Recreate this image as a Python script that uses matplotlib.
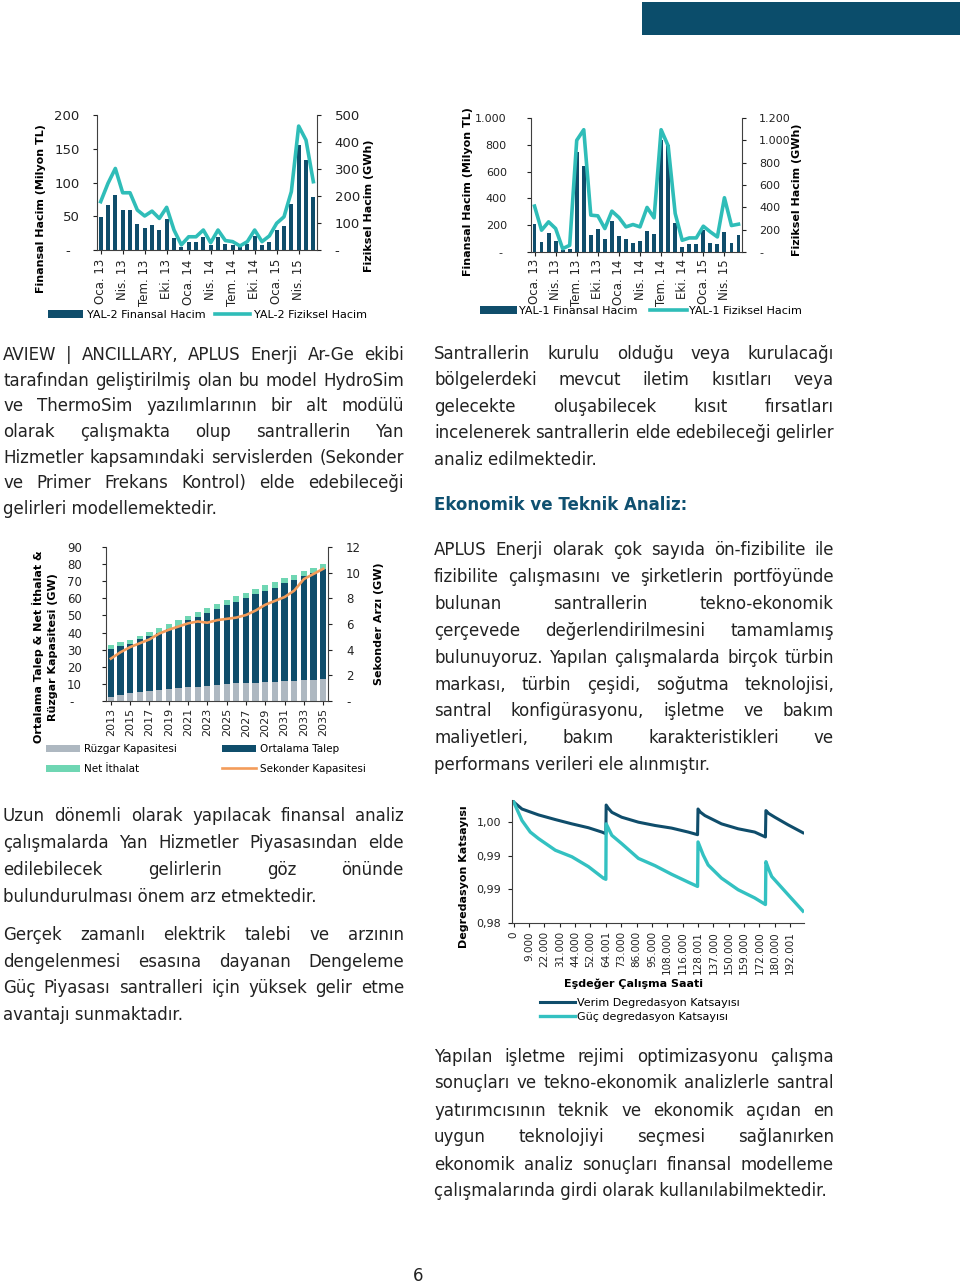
import numpy as np
import matplotlib
matplotlib.use("Agg")
import matplotlib.pyplot as plt
from matplotlib.patches import Rectangle

W, H = 960, 1284
DARK = "#0f4d6b"
TEAL = "#2fbdb8"
GRAY = "#aeb8c1"
MINT = "#6fd6b3"
ORANGE = "#f39c5a"
TXT = "#222222"
SPINE = "#404040"

# --- YAL-2 (monthly, Oca.13 - Haz.15)
yal2_fin = [49, 67, 81, 59, 59, 38, 33, 37, 29, 46, 18, 5, 12, 12, 19, 8, 19, 9,
            8, 4, 9, 21, 8, 12, 29, 35, 68, 156, 134, 79]
yal2_fiz = [179, 247, 302, 212, 212, 148, 126, 144, 117, 158, 74, 19, 49, 49, 74, 27,
            74, 35, 31, 15, 31, 74, 31, 52, 99, 123, 216, 459, 407, 253]
# --- YAL-1
yal1_fin = [212, 75, 145, 80, 17, 25, 750, 642, 125, 172, 98, 232, 122, 100, 70, 80,
            160, 138, 838, 800, 220, 38, 58, 60, 163, 70, 58, 148, 70, 128]
yal1_fiz = [411, 195, 270, 210, 30, 60, 1000, 1095, 330, 324, 210, 366, 309, 225, 246,
            225, 399, 306, 1095, 951, 345, 105, 126, 126, 231, 180, 135, 486, 237, 249]
month_labels = ["Oca. 13", "Nis. 13", "Tem. 13", "Eki. 13", "Oca. 14", "Nis. 14",
                "Tem. 14", "Eki. 14", "Oca. 15", "Nis. 15"]

# --- capacity outlook 2013-2035
years = list(range(2013, 2036))
ruzgar = [2.5, 3.5, 4.5, 5.0, 5.6, 6.4, 7.0, 7.4, 8.0, 8.4, 8.8, 9.3, 9.9, 10.3, 10.3,
          10.7, 11.0, 11.3, 11.5, 11.9, 12.0, 12.5, 12.8]
talep = [27.8, 28.5, 29.0, 31.0, 32.4, 33.6, 35.0, 36.6, 39.3, 40.4, 42.7, 44.2, 46.1,
         47.7, 50.0, 51.6, 53.4, 55.0, 57.2, 58.7, 61.0, 62.5, 64.6]
ithalat = [2.4, 2.2, 2.1, 2.0, 2.5, 2.6, 3.0, 3.3, 2.3, 3.2, 2.8, 3.1, 3.0, 3.3, 2.9,
           3.3, 3.3, 3.3, 2.9, 2.9, 2.9, 3.0, 2.9]
sekonder = [3.3, 3.8, 4.2, 4.5, 4.8, 5.25, 5.55, 5.8, 6.05, 6.2, 6.1, 6.3, 6.4, 6.5,
            6.7, 7.05, 7.5, 7.8, 8.1, 8.6, 9.5, 9.9, 10.3]

# --- degradation (x in category positions of the hour axis)
deg_labels = ["0", "9.000", "22.000", "31.000", "44.000", "52.000", "64.001", "73.000",
              "86.000", "95.000", "108.000", "116.000", "128.001", "137.000", "150.000",
              "159.000", "172.000", "180.000", "192.001"]
verim_x = [0, 0.54, 1.62, 2.71, 3.79, 4.87, 5.74, 6.0, 6.02, 6.15, 6.39, 7.03, 8.12, 9.2,
           10.28, 11.36, 11.97, 12.0, 12.15, 12.45, 13.53, 14.61, 15.69, 16.39, 16.42,
           16.6, 17.0, 17.86, 18.83]
verim_y = [1.0, 0.99896, 0.99808, 0.99739, 0.99675, 0.99617, 0.99553, 0.99528, 0.99955,
           0.9991, 0.99847, 0.99774, 0.9970, 0.99651, 0.99612, 0.99553, 0.99514, 0.99896,
           0.9985, 0.99798, 0.99675, 0.99602, 0.99553, 0.9948, 0.99872, 0.9983, 0.99774,
           0.99661, 0.99543]
guc_x = [0, 0.54, 1.08, 1.62, 2.71, 3.79, 4.87, 5.84, 6.0, 6.02, 6.39, 7.03, 8.12, 9.2,
         10.28, 11.36, 11.97, 12.0, 12.34, 12.66, 13.53, 14.61, 15.69, 16.39, 16.42, 16.6,
         16.8, 17.86, 18.83]
guc_y = [1.0, 0.99725, 0.99553, 0.99455, 0.99283, 0.99185, 0.99038, 0.98867, 0.9885,
         0.99675, 0.99504, 0.99381, 0.99161, 0.99053, 0.98925, 0.98808, 0.98744, 0.99406,
         0.9921, 0.99063, 0.98867, 0.98695, 0.98573, 0.98475, 0.99112, 0.9900, 0.98891,
         0.98622, 0.98377]

# --- body text, one entry per printed line
para_left1 = ["AVIEW | ANCILLARY, APLUS Enerji Ar-Ge ekibi",
              "tarafından geliştirilmiş olan bu model HydroSim",
              "ve ThermoSim yazılımlarının bir alt modülü",
              "olarak çalışmakta olup santrallerin Yan",
              "Hizmetler kapsamındaki servislerden (Sekonder",
              "ve Primer Frekans Kontrol) elde edebileceği",
              "gelirleri modellemektedir."]
para_right1 = ["Santrallerin kurulu olduğu veya kurulacağı",
               "bölgelerdeki mevcut iletim kısıtları veya",
               "gelecekte oluşabilecek kısıt fırsatları",
               "incelenerek santrallerin elde edebileceği gelirler",
               "analiz edilmektedir."]
heading = "Ekonomik ve Teknik Analiz:"
para_right2 = ["APLUS Enerji olarak çok sayıda ön-fizibilite ile",
               "fizibilite çalışmasını ve şirketlerin portföyünde",
               "bulunan santrallerin tekno-ekonomik",
               "çerçevede değerlendirilmesini tamamlamış",
               "bulunuyoruz. Yapılan çalışmalarda birçok türbin",
               "markası, türbin çeşidi, soğutma teknolojisi,",
               "santral konfigürasyonu, işletme ve bakım",
               "maliyetleri, bakım karakteristikleri ve",
               "performans verileri ele alınmıştır."]
para_left2 = ["Uzun dönemli olarak yapılacak finansal analiz",
              "çalışmalarda Yan Hizmetler Piyasasından elde",
              "edilebilecek gelirlerin göz önünde",
              "bulundurulması önem arz etmektedir."]
para_left3 = ["Gerçek zamanlı elektrik talebi ve arzının",
              "dengelenmesi esasına dayanan Dengeleme",
              "Güç Piyasası santralleri için yüksek gelir etme",
              "avantajı sunmaktadır."]
para_right3 = ["Yapılan işletme rejimi optimizasyonu çalışma",
               "sonuçları ve tekno-ekonomik analizlerle santral",
               "yatırımcısının teknik ve ekonomik açıdan en",
               "uygun teknolojiyi seçmesi sağlanırken",
               "ekonomik analiz sonuçları finansal modelleme",
               "çalışmalarında girdi olarak kullanılabilmektedir."]

plt.rcParams['font.family'] = ['DejaVu Sans']
fig = plt.figure(figsize=(9.6, 12.84), dpi=100)


def fx(x):
    return x / W


def fy(y):
    return 1 - y / H


def add_ax(box):
    x0, y0, x1, y1 = box
    return fig.add_axes([x0 / W, 1 - y1 / H, (x1 - x0) / W, (y1 - y0) / H])


def lab_pos(box, px, py):
    x0, y0, x1, y1 = box
    return (px - x0) / (x1 - x0), (y1 - py) / (y1 - y0)


def style(ax, twin):
    for a in (ax, twin):
        a.spines['top'].set_visible(False)
        for s in a.spines.values():
            s.set_color(SPINE)
            s.set_linewidth(0.8)
    ax.spines['right'].set_visible(False)
    twin.spines['left'].set_visible(False)
    twin.spines['bottom'].set_visible(False)


def justified(lines, x0, x1, base, step, size=12):
    r = fig.canvas.get_renderer()
    for i, line in enumerate(lines):
        y = fy(base + i * step)
        words = line.split()
        if i == len(lines) - 1:
            fig.text(fx(x0), y, line, fontsize=size, color=TXT, va='baseline')
            continue
        widths = []
        for w in words:
            t = fig.text(0, 0, w, fontsize=size)
            widths.append(t.get_window_extent(r).width)
            t.remove()
        gap = ((x1 - x0) - sum(widths)) / (len(words) - 1)
        x = x0
        for w, wd in zip(words, widths):
            fig.text(fx(x), y, w, fontsize=size, color=TXT, va='baseline')
            x += wd + gap


# header bar
fig.add_artist(Rectangle((fx(642), fy(35)), 1 - fx(642), (35 - 1.5) / H,
                         transform=fig.transFigure, color="#0b4d6b", lw=0))


def volume_chart(box, fin, fiz, fin_max, fin_step, fiz_max, fiz_step, fmt,
                 zero_left, tick_fs, lpad, rpad, xlpad, name, lab_l, lab_r, leg):
    ax = add_ax(box)
    x = np.arange(len(fin))
    bars = ax.bar(x, fin, width=0.55, color=DARK)
    ax.set_xlim(-0.5, len(fin) - 0.5)
    ax.set_ylim(0, fin_max)
    lt = np.arange(0, fin_max + 1, fin_step)
    ax.set_yticks(lt)
    ax.set_yticklabels([zero_left if v == 0 else fmt(v) for v in lt], fontsize=tick_fs)
    ax.set_xticks(x[::3])
    ax.set_xticklabels(month_labels, rotation=90, fontsize=8.5)
    ax.tick_params(axis='y', direction='out', length=3, pad=lpad, colors=TXT)
    ax.tick_params(axis='x', direction='out', length=3, pad=xlpad, colors=TXT)
    tw = ax.twinx()
    line, = tw.plot(x, fiz, color=TEAL, lw=2.6, solid_joinstyle='round')
    tw.set_ylim(0, fiz_max)
    rt = np.arange(0, fiz_max + 1, fiz_step)
    tw.set_yticks(rt)
    tw.set_yticklabels(['-' if v == 0 else fmt(v) for v in rt], fontsize=tick_fs)
    tw.tick_params(axis='y', direction='out', length=3, pad=rpad, colors=TXT)
    style(ax, tw)
    ax.set_ylabel("Finansal Hacim (Milyon TL)", fontsize=8, fontweight='bold', va='center')
    ax.yaxis.set_label_coords(*lab_pos(box, *lab_l))
    tw.set_ylabel("Fiziksel Hacim (GWh)", fontsize=8, fontweight='bold', va='center',
                  rotation=90)
    tw.yaxis.set_label_coords(*lab_pos(box, *lab_r))
    fig.legend([bars, line], [name + " Finansal Hacim", name + " Fiziksel Hacim"],
               loc='center left', bbox_to_anchor=(fx(leg[0]), fy(leg[1])), ncol=2,
               frameon=False, fontsize=8, handlelength=leg[2], handletextpad=leg[3],
               columnspacing=leg[4], borderpad=0, borderaxespad=0)


def dotted(v):
    return f"{int(v):,}".replace(",", ".")


volume_chart((97, 115, 317, 250), yal2_fin, yal2_fiz, 200, 50, 500, 100, dotted,
             "-  ", 9.5, 9.5, 9.6, 3.6, "YAL-2", (41, 209), (369, 206),
             (48, 315, 3.15, 0.36, 0.8))
volume_chart((531, 118, 742, 252), yal1_fin, yal1_fiz, 1000, 200, 1200, 200, dotted,
             "- ", 8, 14.4, 9.4, 2.2, "YAL-1", (468, 192), (797, 190),
             (480, 311, 3.3, 0.2, 1.17))

# --- capacity chart
box3 = (106, 547, 328, 701)
ax3 = add_ax(box3)
xc = np.arange(len(years))
bottom2 = np.array(ruzgar)
bottom3 = bottom2 + np.array(talep)
b1 = ax3.bar(xc, ruzgar, width=0.65, color=GRAY)
b2 = ax3.bar(xc, talep, width=0.65, bottom=bottom2, color=DARK)
b3 = ax3.bar(xc, ithalat, width=0.65, bottom=bottom3, color=MINT)
ax3.set_xlim(-0.5, len(years) - 0.5)
ax3.set_ylim(0, 90)
ax3.set_yticks(range(0, 91, 10))
ax3.set_yticklabels(["-  "] + [str(v) for v in range(10, 91, 10)], fontsize=8.5)
ax3.set_xticks(xc[::2])
ax3.set_xticklabels([str(y) for y in years[::2]], rotation=90, fontsize=8)
ax3.tick_params(axis='y', direction='out', length=3, pad=14.4, colors=TXT)
ax3.tick_params(axis='x', direction='out', length=3, pad=2.2, colors=TXT)
tw3 = ax3.twinx()
l3, = tw3.plot(xc, sekonder, color=ORANGE, lw=1.9)
tw3.set_ylim(0, 12)
tw3.set_yticks(range(0, 13, 2))
tw3.set_yticklabels(["-"] + [str(v) for v in range(2, 13, 2)], fontsize=8.5)
tw3.tick_params(axis='y', direction='out', length=3, pad=10, colors=TXT)
style(ax3, tw3)
ax3.set_ylabel("Ortalama Talep & Net İthalat &\nRüzgar Kapasitesi (GW)", fontsize=8,
               fontweight='bold', va='center', linespacing=1.4)
ax3.yaxis.set_label_coords(*lab_pos(box3, 45, 647))
tw3.set_ylabel("Sekonder Arzı (GW)", fontsize=8, fontweight='bold', va='center',
               rotation=90)
tw3.yaxis.set_label_coords(*lab_pos(box3, 379, 624))
fig.legend([b1, b3, b2, l3], ["Rüzgar Kapasitesi", "Net İthalat", "Ortalama Talep",
                              "Sekonder Kapasitesi"],
           loc='center left', bbox_to_anchor=(fx(46), fy(759)), ncol=2, frameon=False,
           fontsize=7.5, handlelength=3.27, handletextpad=0.35, columnspacing=4.4,
           labelspacing=0.94, borderpad=0, borderaxespad=0)

# --- degradation chart
box4 = (512, 800, 804, 923)
ax4 = add_ax(box4)
lv, = ax4.plot(verim_x, verim_y, color=DARK, lw=2.2)
lg, = ax4.plot(guc_x, guc_y, color="#33c1c1", lw=2.4)
ax4.set_xlim(-0.11, 18.9)
ax4.set_ylim(0.982, 1.0003)
yt4 = [0.982, 0.987, 0.992, 0.997]
ax4.set_yticks(yt4)
ax4.set_yticklabels([f"{v:.2f}".replace(".", ",") for v in yt4], fontsize=8)
ax4.set_xticks(range(len(deg_labels)))
ax4.set_xticklabels(deg_labels, rotation=90, fontsize=7.5)
ax4.tick_params(axis='y', direction='out', length=3, pad=5, colors=TXT)
ax4.tick_params(axis='x', direction='out', length=3, pad=2.9, colors=TXT)
for s in ('top', 'right'):
    ax4.spines[s].set_visible(False)
for s in ('left', 'bottom'):
    ax4.spines[s].set_color(SPINE)
    ax4.spines[s].set_linewidth(0.8)
ax4.set_ylabel("Degredasyon Katsayısı", fontsize=8, fontweight='bold', va='center')
ax4.yaxis.set_label_coords(*lab_pos(box4, 464, 877))
ax4.set_xlabel("Eşdeğer Çalışma Saati", fontsize=8, fontweight='bold', va='center')
ax4.xaxis.set_label_coords(*lab_pos(box4, 634, 984))
fig.legend([lv, lg], ["Verim Degredasyon Katsayısı", "Güç degredasyon Katsayısı"],
           loc='center left', bbox_to_anchor=(fx(540), fy(1009.5)), ncol=1,
           frameon=False, fontsize=8, handlelength=3.15, handletextpad=0.2,
           labelspacing=0.36, borderpad=0, borderaxespad=0)

# --- body text
justified(para_left1, 3, 404, 360.5, 25.5)
justified(para_right1, 434, 834, 358.5, 26.6)
fig.text(fx(434), fy(509.7), heading, fontsize=12, fontweight='bold', color="#0f5070",
         va='baseline')
justified(para_right2, 434, 834, 555.5, 26.8)
justified(para_left2, 3, 404, 821, 27)
justified(para_left3, 3, 404, 940, 26.7)
justified(para_right3, 434, 834, 1061.5, 27)
fig.text(fx(418), fy(1276), "6", fontsize=12, color=TXT, ha='center', va='center')

fig.savefig("out.png", dpi=100)
